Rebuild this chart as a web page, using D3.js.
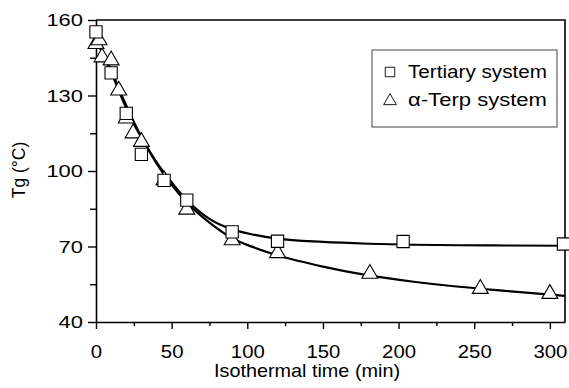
<!DOCTYPE html>
<html>
<head>
<meta charset="utf-8">
<script src="https://cdn.jsdelivr.net/npm/d3@7"></script>
<style>
  html, body { margin: 0; padding: 0; background: #fff; }
  svg { display: block; font-family: "Liberation Sans", Arial, Helvetica, sans-serif; }
</style>
</head>
<body>
<svg id="chart" width="569" height="388"></svg>
<script>
// ---- Data ----
const tertiaryTime = [0, 10, 20, 30, 45, 60, 90, 120, 203, 309];
const tertiaryTg   = [155.3, 139, 122.9, 106.6, 96.3, 88.4, 75.8, 72.1, 72, 71];

const terpTime = [0, 2, 4, 10, 15, 20, 24.5, 30, 45, 60, 90, 120, 181, 254, 300];
const terpTg   = [150.5, 152, 145.2, 144, 132, 120.9, 115, 111.6, 96.4, 84.7, 72.5, 67.4, 59.2, 53.2, 51.2];

// fitted curves as drawn in the figure
const fitTime        = [0, 5, 10, 15, 20, 25, 30, 40, 50, 60, 75, 90, 105, 120, 150, 180, 210, 240, 270, 310];
const tertiaryFitTg  = [154, 146.5, 139.5, 132, 125, 119, 113.5, 103.5, 95.5, 88.5, 81, 76.8, 74.6, 73.1, 71.8, 71.1, 70.7, 70.5, 70.4, 70.3];
const terpFitTg      = [152, 146, 140, 133, 126, 119.5, 113.5, 103, 94.5, 87.5, 79.5, 73.3, 69.5, 66.5, 62, 58.5, 56, 54, 52.4, 50.4];

const xTicks = [0, 50, 100, 150, 200, 250, 300];
const xMinorTicks = [25, 75, 125, 175, 225, 275];
const yTicks = [40, 70, 100, 130, 160];
const yMinorTicks = [55, 85, 115, 145];

const seriesNames = ["Tertiary system", "\u03B1-Terp system"];
const xTitle = "Isothermal time (min)";
const yTitle = "Tg (\u00B0C)";

// ---- Layout ----
const svg = d3.select("#chart");
const L = 96, R = 565, T = 20, B = 322;
const x = d3.scaleLinear().domain([0, 310]).range([L, R]);
const y = d3.scaleLinear().domain([40, 160]).range([B, T]);

// frame (top & right)
svg.append("path")
  .attr("d", `M${L},${T}H${R}V${B}`)
  .attr("fill", "none").attr("stroke", "#000").attr("stroke-width", 1.6);

// axes
const xAxis = svg.append("g").attr("transform", `translate(0,${B})`)
  .call(d3.axisBottom(x).tickValues(xTicks).tickSize(7).tickSizeOuter(0).tickFormat(d3.format("d")));
svg.append("g").attr("transform", `translate(0,${B})`)
  .call(d3.axisBottom(x).tickValues(xMinorTicks).tickSize(4).tickSizeOuter(0).tickFormat(""))
  .call(g => g.select(".domain").remove());
const yAxis = svg.append("g").attr("transform", `translate(${L},0)`)
  .call(d3.axisLeft(y).tickValues(yTicks).tickSize(8).tickSizeOuter(0).tickFormat(d3.format("d")));
svg.append("g").attr("transform", `translate(${L},0)`)
  .call(d3.axisLeft(y).tickValues(yMinorTicks).tickSize(6).tickSizeOuter(0).tickFormat(""))
  .call(g => g.select(".domain").remove());

svg.selectAll(".domain").attr("stroke", "#000").attr("stroke-width", 1.6);
svg.selectAll(".tick line").attr("stroke", "#000").attr("stroke-width", 1.4);

xAxis.selectAll(".tick text")
  .attr("font-size", 18.5).attr("fill", "#000")
  .attr("y", 0).attr("dy", 0)
  .attr("transform", "translate(0,36) scale(1.1,1)");
yAxis.selectAll(".tick text")
  .attr("font-size", 16.5).attr("fill", "#000")
  .attr("x", 0).attr("dy", "0.36em")
  .attr("transform", "translate(-13,0) scale(1.33,1)");

// titles
svg.append("text")
  .attr("x", 307).attr("y", 377)
  .attr("text-anchor", "middle").attr("font-size", 17.7)
  .attr("textLength", 186).attr("lengthAdjust", "spacingAndGlyphs")
  .text(xTitle);
svg.append("text")
  .attr("transform", "translate(25,170) rotate(-90)")
  .attr("text-anchor", "middle").attr("font-size", 17.5)
  .text(yTitle);

// curves
const line = d3.line().x(d => x(d[0])).y(d => y(d[1])).curve(d3.curveMonotoneX);
svg.append("path").datum(d3.zip(fitTime, tertiaryFitTg))
  .attr("d", line).attr("fill", "none").attr("stroke", "#000").attr("stroke-width", 2.2);
svg.append("path").datum(d3.zip(fitTime, terpFitTg))
  .attr("d", line).attr("fill", "none").attr("stroke", "#000").attr("stroke-width", 2.2);

// markers
const sq = d3.symbol().type(d3.symbolSquare).size(150);
const tri = d3.symbol().type(d3.symbolTriangle).size(110);

svg.append("g").selectAll("path").data(d3.zip(terpTime, terpTg)).join("path")
  .attr("d", tri).attr("transform", d => `translate(${x(d[0])},${y(d[1])})`)
  .attr("fill", "#fff").attr("stroke", "#000").attr("stroke-width", 1.1);
svg.append("g").selectAll("path").data(d3.zip(tertiaryTime, tertiaryTg)).join("path")
  .attr("d", sq).attr("transform", d => `translate(${x(d[0])},${y(d[1])})`)
  .attr("fill", "#fff").attr("stroke", "#000").attr("stroke-width", 1.1);

// legend
const lg = svg.append("g");
lg.append("rect").attr("x", 372).attr("y", 50).attr("width", 185).attr("height", 77)
  .attr("fill", "#fff").attr("stroke", "#444").attr("stroke-width", 1);
const legendItems = [
  { name: seriesNames[0], sym: d3.symbol().type(d3.symbolSquare).size(90), cy: 72, ty: 78 },
  { name: seriesNames[1], sym: d3.symbol().type(d3.symbolTriangle).size(70), cy: 101, ty: 106 }
];
legendItems.forEach(it => {
  lg.append("path").attr("d", it.sym).attr("transform", `translate(390,${it.cy})`)
    .attr("fill", "#fff").attr("stroke", "#000").attr("stroke-width", 0.9);
  lg.append("text").attr("x", 408).attr("y", it.ty).attr("font-size", 17.5)
    .attr("textLength", 139).attr("lengthAdjust", "spacingAndGlyphs")
    .text(it.name);
});
</script>
</body>
</html>
